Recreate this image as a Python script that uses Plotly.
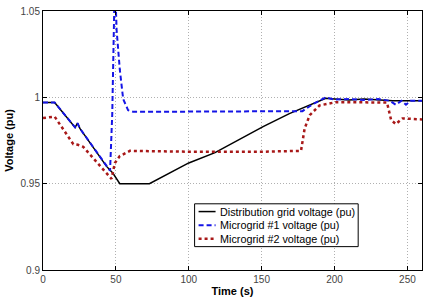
import plotly.graph_objects as go

# Distribution grid voltage (black solid)
t_grid = [0, 8, 22, 23.7, 25.3, 43.6, 48, 52.7, 73, 100, 118, 151, 169, 187, 194, 200, 210, 220, 230, 240, 250, 260]
v_grid = [0.997, 0.997, 0.9826, 0.985, 0.982, 0.960, 0.956, 0.950, 0.950, 0.962, 0.968, 0.983, 0.9906, 0.997, 0.9994,
          0.999, 0.9985, 0.999, 0.9985, 0.998, 0.998, 0.998]

# Microgrid #1 voltage (blue dashed)
t_mg1 = [0, 8, 22, 23.7, 25.3, 44.5, 46, 47.5, 49.3, 50.5, 52.7, 55, 58.4, 62, 100, 150, 170, 178, 185, 194,
         200, 210, 220, 230, 238, 242, 246, 249, 252, 260]
v_mg1 = [0.997, 0.997, 0.9826, 0.985, 0.982, 0.959, 0.9575, 0.99, 1.07, 1.039, 1.016, 0.999, 0.9925, 0.9916,
         0.9916, 0.9916, 0.9916, 0.992, 0.996, 1.0, 0.9987, 0.999, 0.9985, 0.999, 0.998, 0.9957, 0.998, 0.9957,
         0.998, 0.998]

# Microgrid #2 voltage (red dotted)
t_mg2 = [0, 8, 20.8, 24, 27.6, 47, 49.3, 52.7, 59.6, 100, 150, 177, 179.5, 183, 189.7, 201, 236, 238.8, 242,
         246.6, 260]
v_mg2 = [0.988, 0.9888, 0.9729, 0.9725, 0.9713, 0.9528, 0.962, 0.966, 0.969, 0.9685, 0.9685, 0.969, 0.982,
         0.9897, 0.9953, 0.9972, 0.997, 0.9869, 0.9845, 0.9878, 0.9872]

series_names = ["Distribution grid voltage (pu)", "Microgrid #1 voltage (pu)", "Microgrid #2 voltage (pu)"]
series_colors = ["black", "#1414e6", "#a81818"]
series_widths = [1.5, 2, 2.5]
series_dash = ["solid", "5px,3px", "dot"]

x_ticks = [0, 50, 100, 150, 200, 250]
y_ticks = [0.9, 0.95, 1.0, 1.05]
y_tick_labels = ["0.9", "0.95", "1", "1.05"]

fig = go.Figure()
for tt, vv, nm, c, w, d in zip([t_grid, t_mg1, t_mg2], [v_grid, v_mg1, v_mg2], series_names,
                               series_colors, series_widths, series_dash):
    fig.add_trace(go.Scatter(x=tt, y=vv, mode="lines", name=nm, showlegend=False,
                             line=dict(color=c, width=w, dash=d)))

axis_common = dict(showline=True, linecolor="black", linewidth=1, mirror="ticks", ticks="inside",
                   ticklen=4, tickcolor="black", showgrid=True, gridcolor="#b0b0b0", griddash="1px,2px",
                   gridwidth=1, zeroline=False,
                   tickfont=dict(family="Liberation Sans", size=10, color="#444444"))

fig.update_xaxes(range=[0, 260], tickvals=x_ticks, **axis_common,
                 title=dict(text="<b>Time (s)</b>", font=dict(family="Liberation Sans", size=11, color="black"),
                            standoff=2))
fig.update_yaxes(range=[0.9, 1.05], tickvals=y_ticks, ticktext=y_tick_labels, **axis_common,
                 title=dict(text="<b>Voltage (pu)</b>", font=dict(family="Liberation Sans", size=11, color="black"),
                            standoff=4))

# Custom compact legend (paper coordinates)
leg_x0, leg_x1, leg_y0, leg_y1 = 0.4, 0.8316, 0.0902, 0.2556
row_y = [0.2256, 0.1729, 0.1203]
shapes = [dict(type="rect", xref="paper", yref="paper", x0=leg_x0, x1=leg_x1, y0=leg_y0, y1=leg_y1,
               line=dict(color="black", width=1), fillcolor="white", layer="above")]
annotations = []
for ry, nm, c, w, d in zip(row_y, series_names, series_colors, series_widths, series_dash):
    shapes.append(dict(type="line", xref="paper", yref="paper", x0=0.4105, x1=0.4553, y0=ry, y1=ry,
                       line=dict(color=c, width=w, dash=d), layer="above"))
    annotations.append(dict(x=0.4605, y=ry, xref="paper", yref="paper", text=nm, showarrow=False,
                            xanchor="left", yanchor="middle",
                            font=dict(family="Liberation Sans", size=10.8, color="black")))

fig.update_layout(
    width=428, height=300,
    margin=dict(l=43, r=5, t=7, b=27),
    plot_bgcolor="white", paper_bgcolor="white",
    shapes=shapes, annotations=annotations,
)

fig.write_html("out.html")
